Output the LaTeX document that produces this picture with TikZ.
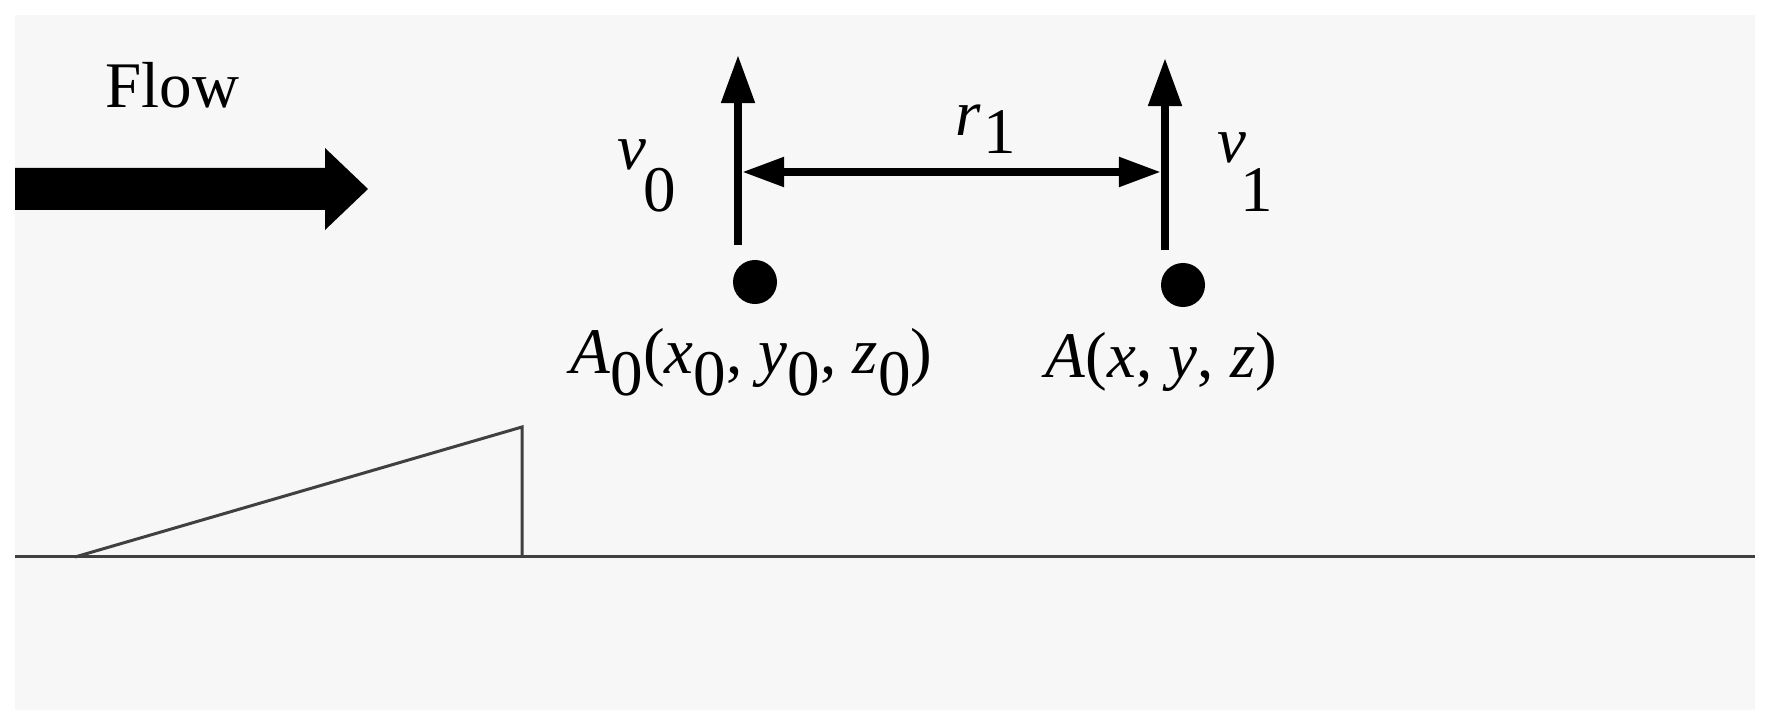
\documentclass[tikz,border=0pt]{standalone}
\usepackage{fontspec}
\setmainfont{Liberation Serif}
\usetikzlibrary{arrows.meta}
\begin{document}
\begin{tikzpicture}[x=0.01cm,y=-0.01cm,
  lab/.style={inner sep=0pt,font=\fontsize{18.5}{21}\selectfont},
  vec/.style={line width=0.8mm,-{Triangle[length=4.8mm,width=3.2mm]}},
  dot/.style={circle,fill=black,minimum size=4.4mm,inner sep=0pt},
  gline/.style={draw=black!75,line width=0.3mm}]
\useasboundingbox (0,0) rectangle (1770,725);
\fill[white] (0,0) rectangle (1770,725);
\fill[black!3] (15,15) rectangle (1755,710);
% flow
\node[lab,anchor=west] (flow) at (105,85) {Flow};
\fill (15,168) -- (325,168) -- (325,148) -- (368,189) -- (325,230) -- (325,210) -- (15,210) -- cycle;
% points
\node[dot] (p0) at (755,282) {};
\node[dot] (p1) at (1183,285) {};
\coordinate (b0) at (738,245); \coordinate (t0) at (738,55);
\coordinate (b1) at (1165,250); \coordinate (t1) at (1165,58);
\draw[vec] (b0) -- (t0);
\draw[vec] (b1) -- (t1);
\coordinate (h0) at (742,172); \coordinate (h1) at (1161,172);
\draw[line width=0.8mm,{Triangle[length=4.2mm,width=2.8mm]}-{Triangle[length=4.2mm,width=2.8mm]}] (h0) -- (h1);
% labels
\node[lab] (v0) at (632,155) {\textit{v}};
\node[lab] (v0s) at (660,190) {0};
\node[lab] (r) at (968,120) {\textit{r}};
\node[lab] (rs) at (1000,132) {1};
\node[lab] (v1) at (1232,148) {\textit{v}};
\node[lab] (v1s) at (1257,190) {1};
\node[lab,anchor=west] (a0) at (570,362) {\textit{A}\raisebox{-0.75ex}{0}(\textit{x}\raisebox{-0.75ex}{0}, \textit{y}\raisebox{-0.75ex}{0}, \textit{z}\raisebox{-0.75ex}{0})};
\node[lab,anchor=west] (a1) at (1045,362) {\textit{A}(\textit{x}, \textit{y}, \textit{z})};
% wedge and ground
\draw[gline] (75,557) -- (522,427) -- (522,557);
\draw[gline] (15,557) -- (1755,557);
\end{tikzpicture}
\end{document}
